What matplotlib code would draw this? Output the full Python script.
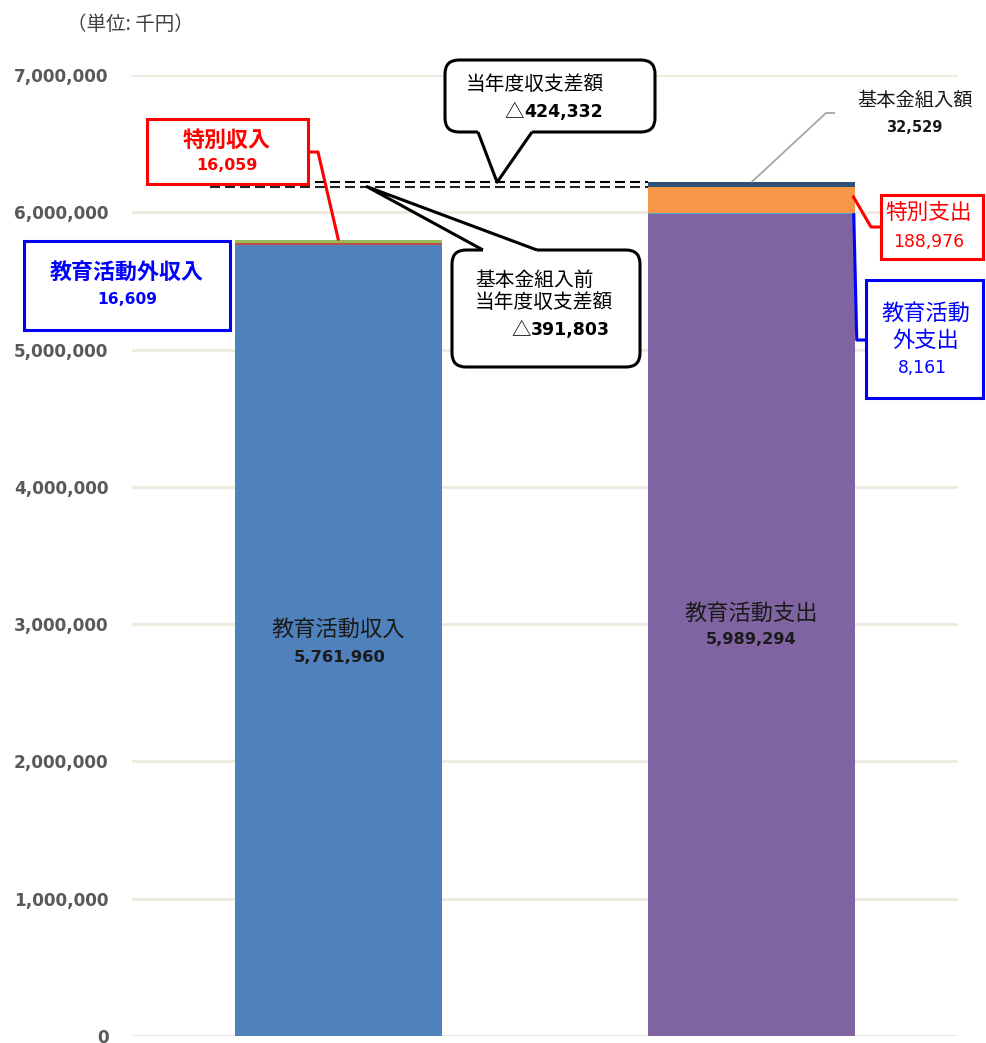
import matplotlib
matplotlib.use("Agg")
import matplotlib.pyplot as plt
from matplotlib.patches import FancyBboxPatch, Polygon, Rectangle
from matplotlib.lines import Line2D
from matplotlib.transforms import IdentityTransform

# data (千円)
income_labels = ["教育活動収入", "教育活動外収入", "特別収入"]
income_values = [5761960, 16609, 16059]
income_colors = ["#4F81BD", "#C0504D", "#9BBB59"]

expense_labels = ["教育活動支出", "教育活動外支出", "特別支出", "基本金組入額"]
expense_values = [5989294, 8161, 188976, 32529]
expense_colors = ["#8064A2", "#4BACC6", "#F79646", "#2E4F78"]

yticks = [0, 1000000, 2000000, 3000000, 4000000, 5000000, 6000000, 7000000]
balance_text = "424,332"
balance_before_text = "391,803"
unit_text = "（単位: 千円）"

JP = "Noto Sans CJK JP"
NUM = ["DejaVu Sans", "Noto Sans CJK JP"]
plt.rcParams["font.family"] = NUM

W, H = 986, 1043
fig = plt.figure(figsize=(W / 100, H / 100), dpi=100)
ax = fig.add_axes([132 / W, 1 - 1036 / H, 826 / W, 961 / H])
ax.set_xlim(-0.5, 1.5)
ax.set_ylim(0, 7000000)

bottom = 0
for v, c in zip(income_values, income_colors):
    ax.bar(0, v, 0.5, bottom=bottom, color=c, zorder=2)
    bottom += v
income_total = bottom

bottom = 0
expense_mid = []
for v, c in zip(expense_values, expense_colors):
    ax.bar(1, v, 0.5, bottom=bottom, color=c, zorder=2)
    expense_mid.append(bottom + v / 2)
    bottom += v
expense_total = bottom
before_total = expense_total - expense_values[-1]

ax.set_yticks(yticks)
ax.set_yticklabels([f"{v:,}" for v in yticks], fontsize=12.2, fontweight="bold",
                   color="#595959", family="DejaVu Sans")
ax.tick_params(axis="y", length=0, pad=17)
ax.set_xticks([])
ax.grid(axis="y", color="#EEECE1", lw=2.2, zorder=0)
ax.set_axisbelow(True)
for s in ax.spines.values():
    s.set_visible(False)

# dashed lines for the two totals
ax.plot([-0.311, 0.75], [expense_total, expense_total], color="black", lw=1.5,
        dashes=(4.8, 2.4), zorder=3, clip_on=False)
ax.plot([-0.311, 0.75], [before_total, before_total], color="#222222", lw=1.5,
        dashes=(4.8, 2.4), zorder=3, clip_on=False)

I = IdentityTransform()
renderer = fig.canvas.get_renderer()


def d2p(x, y):
    X, Y = ax.transData.transform((x, y))
    return (X, H - Y)


def line(pts, color, lw, z=5):
    fig.add_artist(Line2D([p[0] for p in pts], [H - p[1] for p in pts], color=color,
                          lw=lw, transform=I, zorder=z, solid_capstyle="butt"))


def box(x0, y0, x1, y1, ec, lw=2.2):
    fig.add_artist(Rectangle((x0, H - y1), x1 - x0, y1 - y0, fc="white", ec=ec, lw=lw,
                             transform=I, zorder=4))


def text(x, y, s, size, color="black", weight="normal", family=JP, ha="center"):
    return fig.text(x, H - y, s, fontsize=size, color=color, fontweight=weight,
                    family=family, ha=ha, va="center", transform=I, zorder=6)


def delta_number(x_right, y, s, size):
    t = text(x_right, y, s, size, weight="bold", family=NUM, ha="right")
    w = t.get_window_extent(renderer).width
    text(x_right - w, y, "△", 14, family=JP, ha="right")


def bubble(x0, y0, x1, y1, b1, b2, tip, inner):
    fig.add_artist(FancyBboxPatch((x0, H - y1), x1 - x0, y1 - y0,
                                  boxstyle="round,pad=0,rounding_size=14",
                                  fc="white", ec="black", lw=2.2, transform=I, zorder=4))
    pts = [(b1[0] + inner[0], b1[1] + inner[1]), b1, tip, b2,
           (b2[0] + inner[0], b2[1] + inner[1])]
    fig.add_artist(Polygon([(p[0], H - p[1]) for p in pts], closed=True, fc="white",
                           ec="none", transform=I, zorder=4.5))
    line([b1, tip, b2], "black", 2.2, z=4.6)


# speech bubbles
bubble(445, 60, 655, 132, (478, 132), (532, 132), d2p(0.384, expense_total), (0, -4))
text(466, 85, "当年度収支差額", 14.2, ha="left")
delta_number(603, 112, balance_text, 12.5)

bubble(452, 250, 640, 367, (483, 250), (537, 250), d2p(0.069, before_total), (0, 4))
text(475, 280, "基本金組入前", 14.2, ha="left")
text(475, 303, "当年度収支差額", 14.2, ha="left")
delta_number(610, 330, balance_before_text, 12.5)

# income side boxes
box(147, 119, 308, 184, "#FF0000")
line([(308, 152), (318, 152), d2p(0.0, income_total)], "#FF0000", 2.2)
text(227, 140, income_labels[2], 15.8, color="#FF0000", weight="bold")
text(227, 166, f"{income_values[2]:,}", 11.4, color="#FF0000", weight="bold", family=NUM)

box(24, 241, 230, 330, "#0000FF")
text(127, 273, income_labels[1], 15.8, color="#0000FF", weight="bold")
text(127, 300, f"{income_values[1]:,}", 11.2, color="#0000FF", weight="bold", family=NUM)

# expense side boxes
p = d2p(1.25, expense_mid[2])
box(881, 195, 983, 259, "#FF0000")
line([(p[0] - 2, p[1] - 4), (871, 227), (881, 227)], "#FF0000", 2.2)
text(929, 213, expense_labels[2], 15.6, color="#FF0000")
text(929, 242, f"{expense_values[2]:,}", 12.4, color="#FF0000", family=NUM)

p = d2p(1.25, expense_mid[1])
box(866, 280, 983, 398, "#0000FF")
line([(p[0] - 1, p[1]), (p[0] + 2, 340), (866, 340)], "#0000FF", 2.2)
text(926, 313, expense_labels[1][:4], 16, color="#0000FF")
text(926, 340, expense_labels[1][4:], 16, color="#0000FF")
text(922, 368, f"{expense_values[1]:,}", 12.3, color="#0000FF", family=NUM)

line([d2p(1.0, expense_total), (826, 113), (835, 113)], "#A6A6A6", 1.3)
text(915, 101, expense_labels[3], 13.9, color="#1a1a1a")
text(914, 127, f"{expense_values[3]:,}", 10.5, color="#1a1a1a", weight="bold", family=NUM)

# bar labels
x, _ = d2p(0, 0)
text(x, 629, income_labels[0], 16, color="#1a1a1a")
text(x + 1, 657, f"{income_values[0]:,}", 11.8, color="#1a1a1a", weight="bold", family=NUM)
x, _ = d2p(1, 0)
text(x, 613, expense_labels[0], 16, color="#1a1a1a")
text(x, 640, f"{expense_values[0]:,}", 11.6, color="#1a1a1a", weight="bold", family=NUM)

text(130, 25, unit_text, 14, color="#404040")

fig.savefig("out.png", dpi=100)
